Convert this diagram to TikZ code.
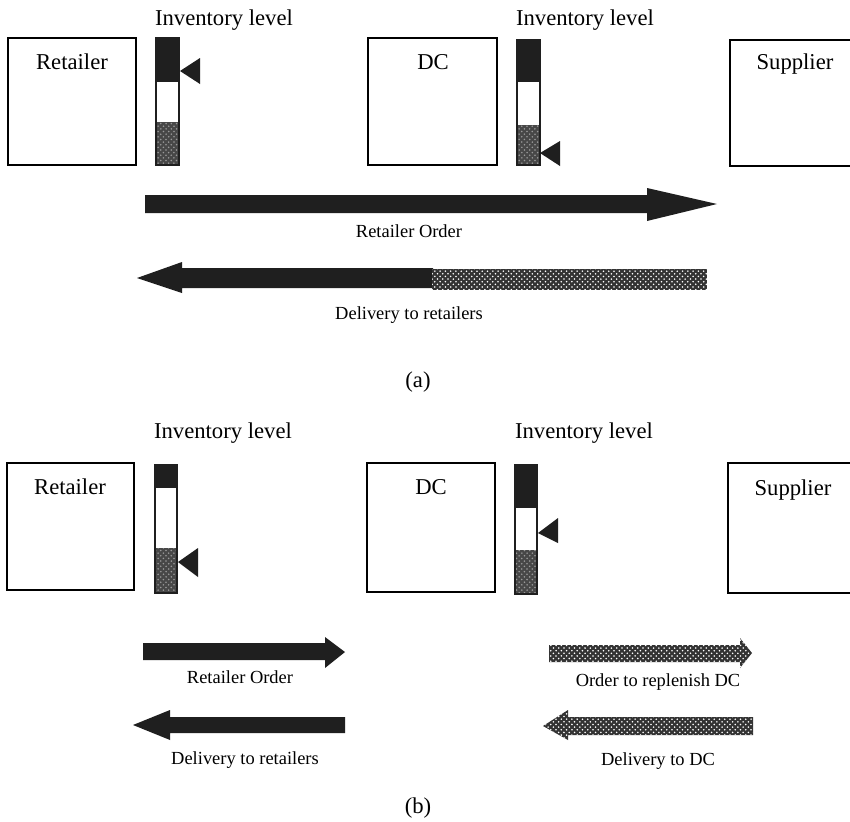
\documentclass[tikz,border=0pt]{standalone}
\usepackage{fontspec}
\setmainfont{Liberation Serif}
\usetikzlibrary{patterns}

\tikzset{
  party/.style={draw, line width=0.9pt},
  bigtxt/.style={font=\fontsize{12.9}{14}\selectfont, inner sep=0pt},
  smalltxt/.style={font=\fontsize{10.5}{12}\selectfont, inner sep=0pt},
  stipple/.style={preaction={fill=black!80}, pattern=crosshatch dots, pattern color=white},
  grain/.style={preaction={fill=black!72}, pattern=crosshatch dots, pattern color=black!40},
  solidarr/.style={fill=black!88},
}

\begin{document}
\begin{tikzpicture}[x=0.02cm, y=-0.02cm]
  \useasboundingbox (0,0) rectangle (850,822);
  \fill[white] (0,0) rectangle (850,822);
  \clip (0,0) rectangle (850,822);

  % ---------- (a) ----------
  \draw[party] (8,38) rectangle (136,165);
  \draw[party] (368,38) rectangle (497,165);
  \draw[party] (730,40) rectangle (870,166);
  \node[bigtxt] (retA) at (72,62) {Retailer};
  \node[bigtxt] (dcA) at (433,62) {DC};
  \node[bigtxt] (supA) at (795,64) {Supplier};

  % inventory bars
  \node[bigtxt] (invA1) at (224,20) {Inventory level};
  \fill[black!88] (156,38) rectangle (179,82);
  \fill[grain] (156,122) rectangle (179,165);
  \draw[black!88, line width=0.8pt] (156,38) rectangle (179,165);
  \fill[black!88] (180,71) -- (200,58) -- (200,84) -- cycle;

  \node[bigtxt] (invA2) at (585,20) {Inventory level};
  \fill[black!88] (517,40) rectangle (540,82);
  \fill[grain] (517,125) rectangle (540,165);
  \draw[black!88, line width=0.8pt] (517,40) rectangle (540,165);
  \fill[black!88] (540,153) -- (560,141) -- (560,166) -- cycle;

  % arrows
  \fill[solidarr] (145,195) -- (647,195) -- (647,188) -- (717,204)
    -- (647,221) -- (647,213) -- (145,213) -- cycle;
  \node[smalltxt] (ordA) at (409,231) {Retailer Order};

  \fill[solidarr] (137,278) -- (182,262) -- (182,268) -- (433,268)
    -- (433,288) -- (182,288) -- (182,293) -- cycle;
  \fill[stipple] (432,269) rectangle (707,290);
  \node[smalltxt] (delA) at (409,315) {Delivery to retailers};

  \node[bigtxt] (capA) at (418,382) {(a)};

  % ---------- (b) ----------
  \draw[party] (7,463) rectangle (134,590);
  \draw[party] (367,463) rectangle (495,592);
  \draw[party] (728,463) rectangle (870,593);
  \node[bigtxt] (retB) at (70,487) {Retailer};
  \node[bigtxt] (dcB) at (431,487) {DC};
  \node[bigtxt] (supB) at (793,490) {Supplier};

  \node[bigtxt] (invB1) at (223,433) {Inventory level};
  \fill[black!88] (155,465) rectangle (177,488);
  \fill[grain] (155,548) rectangle (177,593);
  \draw[black!88, line width=0.8pt] (155,465) rectangle (177,593);
  \fill[black!88] (178,562) -- (198,548) -- (198,577) -- cycle;

  \node[bigtxt] (invB2) at (584,433) {Inventory level};
  \fill[black!88] (515,465) rectangle (537,508);
  \fill[grain] (515,550) rectangle (537,594);
  \draw[black!88, line width=0.8pt] (515,465) rectangle (537,594);
  \fill[black!88] (538,533) -- (558,518) -- (558,543) -- cycle;

  % arrows, retailer side
  \fill[solidarr] (143,643) -- (325,643) -- (325,637) -- (345,652)
    -- (325,668) -- (325,660) -- (143,660) -- cycle;
  \node[smalltxt] (ordB) at (240,677) {Retailer Order};

  \fill[solidarr] (133,725) -- (170,710) -- (170,717) -- (345,717)
    -- (345,733) -- (170,733) -- (170,740) -- cycle;
  \node[smalltxt] (delB) at (245,760) {Delivery to retailers};

  % arrows, supplier side
  \fill[stipple] (549,645) -- (740,645) -- (740,638) -- (752,653)
    -- (740,668) -- (740,662) -- (549,662) -- cycle;
  \node[smalltxt] (repB) at (658,682) {Order to replenish DC};

  \fill[stipple] (543,726) -- (568,710) -- (568,717) -- (753,717)
    -- (753,735) -- (568,735) -- (568,740) -- cycle;
  \node[smalltxt] (dcdB) at (658,761) {Delivery to DC};

  \node[bigtxt] (capB) at (418,808) {(b)};
\end{tikzpicture}
\end{document}
